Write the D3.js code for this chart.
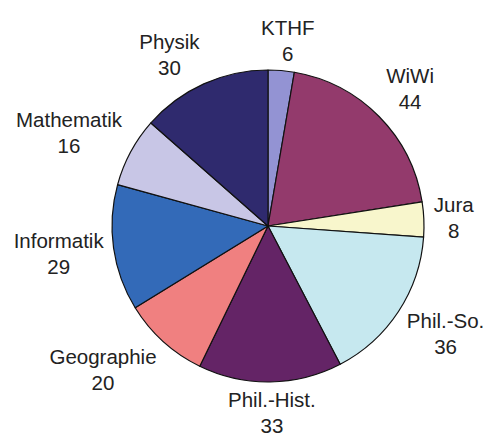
<!DOCTYPE html>
<html>
<head>
<meta charset="utf-8">
<script src="https://cdn.jsdelivr.net/npm/d3@7"></script>
<style>
  html, body { margin: 0; padding: 0; background: #ffffff; }
  svg { display: block; }
  text { font-family: "Liberation Sans", Arial, sans-serif; }
</style>
</head>
<body>
<svg id="chart" width="487" height="439"></svg>
<script>
// ---- data ----
const categories = ["KTHF", "WiWi", "Jura", "Phil.-So.", "Phil.-Hist.", "Geographie", "Informatik", "Mathematik", "Physik"];
const values = [6, 44, 8, 36, 33, 20, 29, 16, 30];
const colors = ["#9393d3", "#933a6c", "#f8f6cc", "#c6e8ef", "#642466", "#f08080", "#336ab8", "#c8c6e6", "#2f2a6e"];

// ---- layout ----
const cx = 268, cy = 226, R = 156;
const gap = 10;
const fontSize = 20.5, lineGap = 26, capH = 14.7;

const svg = d3.select("#chart");
const data = categories.map((c, i) => ({ name: c, value: values[i], color: colors[i] }));

const pie = d3.pie().value(d => d.value).sort(null).startAngle(0).endAngle(2 * Math.PI);
const arcs = pie(data);
const arc = d3.arc().innerRadius(0).outerRadius(R);

const g = svg.append("g").attr("transform", `translate(${cx},${cy})`);

g.selectAll("path.slice")
  .data(arcs)
  .join("path")
  .attr("class", "slice")
  .attr("d", arc)
  .attr("fill", d => d.data.color)
  .attr("stroke", "#111")
  .attr("stroke-width", 1.2)
  .attr("stroke-linejoin", "round");

// labels
const labels = g.selectAll("g.label")
  .data(arcs)
  .join("g")
  .attr("class", "label");

labels.append("text").attr("class", "l1")
  .attr("text-anchor", "middle")
  .attr("font-size", fontSize)
  .attr("fill", "#222")
  .text(d => d.data.name);
labels.append("text").attr("class", "l2")
  .attr("text-anchor", "middle")
  .attr("font-size", fontSize)
  .attr("fill", "#222")
  .text(d => d.data.value);

const clamp = v => Math.max(-1, Math.min(1, v));
labels.each(function(d) {
  const sel = d3.select(this);
  const w = Math.max(sel.select(".l1").node().getComputedTextLength(),
                     sel.select(".l2").node().getComputedTextLength());
  const h = capH + lineGap;
  const a = (d.startAngle + d.endAngle) / 2;
  const ax = Math.sin(a) * (R + gap);
  const ay = -Math.cos(a) * (R + gap);
  const bx = ax + clamp(Math.sin(a) * 2.5) * w / 2;
  const by = ay + clamp(-Math.cos(a) * 1.5) * h / 2;
  sel.select(".l1").attr("x", bx).attr("y", by - h / 2 + capH);
  sel.select(".l2").attr("x", bx).attr("y", by - h / 2 + capH + lineGap);
});
</script>
</body>
</html>
